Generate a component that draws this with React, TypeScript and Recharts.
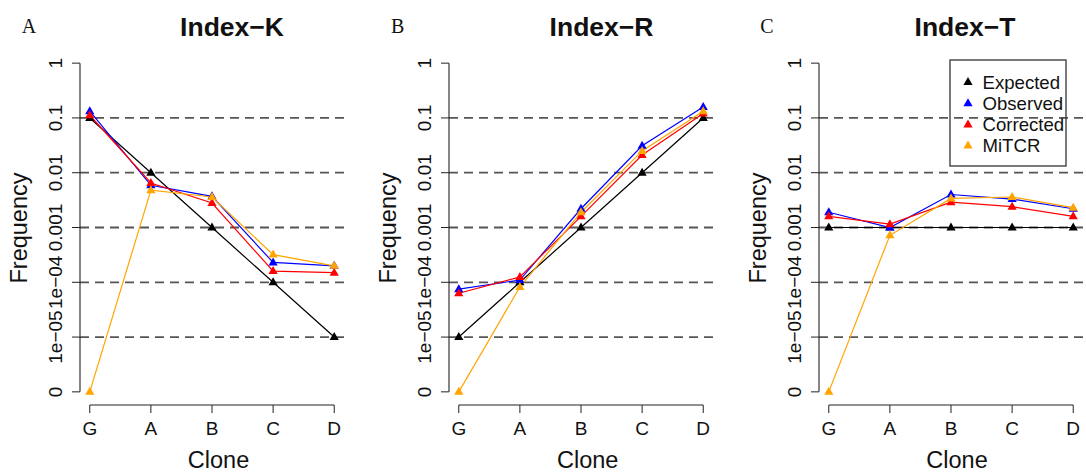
import React from 'react';
import { LineChart, Line, XAxis, YAxis, ReferenceLine, Legend } from 'recharts';

// ---------- data ----------
const clones = ['G', 'A', 'B', 'C', 'D'];
const seriesNames = ['Expected', 'Observed', 'Corrected', 'MiTCR'];
const seriesColors = ['#000000', '#0000FF', '#FF0000', '#FFA500'];

const yTickValues = [1e-6, 1e-5, 1e-4, 1e-3, 1e-2, 1e-1, 1];
const yTickLabels = ['0', '1e\u221205', '1e\u221204', '0.001', '0.01', '0.1', '1'];
const dashedLevels = [1e-5, 1e-4, 1e-3, 1e-2, 1e-1];

// Index-K
const kExpected = [0.1, 0.01, 0.001, 1e-4, 1e-5];
const kObserved = [0.133, 0.0059, 0.0037, 2.3e-4, 2.0e-4];
const kCorrected = [0.112, 0.0065, 0.0028, 1.6e-4, 1.5e-4];
const kMiTCR = [0, 0.0048, 0.0036, 3.2e-4, 2.0e-4];

// Index-R
const rExpected = [1e-5, 1e-4, 0.001, 0.01, 0.1];
const rObserved = [7.5e-5, 1.1e-4, 0.0022, 0.031, 0.158];
const rCorrected = [6.3e-5, 1.25e-4, 0.0016, 0.021, 0.12];
const rMiTCR = [0, 8.2e-5, 0.0019, 0.025, 0.133];

// Index-T
const tExpected = [0.001, 0.001, 0.001, 0.001, 0.001];
const tObserved = [0.0019, 0.001, 0.004, 0.0033, 0.0022];
const tCorrected = [0.0016, 0.00115, 0.0029, 0.0024, 0.0016];
const tMiTCR = [0, 7.2e-4, 0.0034, 0.0036, 0.0023];

// ---------- scale settings ----------
const ZERO_AT = 1e-6; // "0" is drawn at the bottom tick of the log axis
const Y_LO = Math.pow(10, -6.24);
const Y_HI = Math.pow(10, 0.24);
const X_LO = -0.16;
const X_HI = 4.16;

const SANS = '"Liberation Sans", Arial, Helvetica, sans-serif';
const SERIF = '"Liberation Serif", "Times New Roman", serif';

function buildRows(series: number[][]) {
  return clones.map((c, i) => {
    const row: any = { idx: i, clone: c };
    seriesNames.forEach((n, j) => {
      const v = series[j][i];
      row[n] = v <= 0 ? ZERO_AT : v;
    });
    return row;
  });
}

const panels = [
  { title: 'Index\u2212K', letter: 'A', left: 0, titleX: 232, rows: buildRows([kExpected, kObserved, kCorrected, kMiTCR]), legend: false },
  { title: 'Index\u2212R', letter: 'B', left: 369.2, titleX: 601.5, rows: buildRows([rExpected, rObserved, rCorrected, rMiTCR]), legend: false },
  { title: 'Index\u2212T', letter: 'C', left: 738.5, titleX: 965, rows: buildRows([tExpected, tObserved, tCorrected, tMiTCR]), legend: true },
];

const XTick = (props: any) => {
  const { x, y, payload } = props;
  const label = clones[Math.round(payload.value)] ?? '';
  return (
    <text x={x} y={y + 22} textAnchor="middle" fontFamily={SANS} fontSize={19} fill="#111">
      {label}
    </text>
  );
};

const YTick = (props: any) => {
  const { x, y, payload } = props;
  const v = payload.value;
  const i = yTickValues.findIndex((t) => Math.abs(Math.log10(t) - Math.log10(v)) < 1e-6);
  const label = i >= 0 ? yTickLabels[i] : '';
  const tx = x - 10;
  return (
    <text x={tx} y={y} transform={`rotate(-90, ${tx}, ${y})`} textAnchor="middle" fontFamily={SANS} fontSize={19} fill="#111">
      {label}
    </text>
  );
};

const triangleDot = (color: string) => (props: any) => {
  const { cx, cy, index } = props;
  if (cx == null || cy == null) return <g key={index} />;
  return (
    <path
      key={index}
      d={`M${cx},${cy - 5} L${cx + 4.6},${cy + 3} L${cx - 4.6},${cy + 3} Z`}
      fill={color}
      stroke="none"
    />
  );
};

const LegendBox = (props: any) => {
  const payload: any[] = props.payload || [];
  const items = seriesNames.map((n, j) => {
    const p = payload.find((e) => e.value === n || e.dataKey === n);
    return { name: n, color: (p && p.color) || seriesColors[j] };
  });
  return (
    <svg width={118} height={108} style={{ display: 'block', overflow: 'visible' }}>
      <rect x={1} y={1} width={116} height={106} fill="none" stroke="#333" strokeWidth={1.3} />
      {items.map((it, i) => {
        const cy = 23 + i * 21.2;
        const cx = 19;
        return (
          <g key={it.name}>
            <path d={`M${cx},${cy - 5} L${cx + 4.6},${cy + 3} L${cx - 4.6},${cy + 3} Z`} fill={it.color} />
            <text x={33.5} y={cy + 6.5} fontFamily={SANS} fontSize={18.6} fill="#111">
              {it.name}
            </text>
          </g>
        );
      })}
    </svg>
  );
};

export default function App() {
  return (
    <div style={{ position: 'absolute', left: 0, top: 0, width: 1086, height: 472, overflow: 'hidden', background: '#fff' }}>
      {panels.map((p) => (
        <div key={p.letter} style={{ position: 'absolute', left: p.left, top: 0 }}>
          <LineChart width={360} height={472} data={p.rows} margin={{ top: 50, right: 16, bottom: 0, left: 8 }}>
            <XAxis
              type="number"
              dataKey="idx"
              domain={[X_LO, X_HI]}
              ticks={[0, 1, 2, 3, 4]}
              allowDataOverflow
              axisLine={false}
              tickSize={8}
              tickMargin={0}
              tickLine={{ stroke: '#222' }}
              height={67}
              interval={0}
              tick={(tp: any) => <XTick {...tp} />}
            />
            <YAxis
              type="number"
              scale="log"
              domain={[Y_LO, Y_HI]}
              allowDataOverflow
              ticks={yTickValues}
              axisLine={false}
              tickSize={8}
              tickMargin={0}
              tickLine={{ stroke: '#222' }}
              width={72}
              interval={0}
              tick={(tp: any) => <YTick {...tp} />}
            />
            {dashedLevels.map((v) => (
              <ReferenceLine key={v} y={v} stroke="#555" strokeDasharray="9 6" strokeWidth={1.8} ifOverflow="visible" />
            ))}
            <ReferenceLine segment={[{ x: X_LO, y: ZERO_AT }, { x: X_LO, y: 1 }]} stroke="#222" strokeWidth={1.1} ifOverflow="visible" />
            <ReferenceLine segment={[{ x: 0, y: Y_LO }, { x: 4, y: Y_LO }]} stroke="#222" strokeWidth={1.1} ifOverflow="visible" />
            {seriesNames.map((n, j) => (
              <Line
                key={n}
                type="linear"
                dataKey={n}
                name={n}
                stroke={seriesColors[j]}
                strokeWidth={1.2}
                dot={triangleDot(seriesColors[j])}
                activeDot={false}
                isAnimationActive={false}
              />
            ))}
            {p.legend && (
              <Legend
                layout="horizontal"
                verticalAlign="middle"
                align="center"
                content={(lp: any) => <LegendBox {...lp} />}
                wrapperStyle={{ position: 'absolute', left: 210.5, top: 59, width: 118, height: 108 }}
              />
            )}
          </LineChart>
        </div>
      ))}
      <svg width={1086} height={472} style={{ position: 'absolute', left: 0, top: 0, pointerEvents: 'none' }}>
        {panels.map((p) => {
          const plotCenter = p.left + 80 + 132;
          const fx = p.left + 27;
          return (
            <g key={p.letter}>
              <text x={p.left + 21.7} y={33} fontFamily={SERIF} fontSize={20} fill="#111">
                {p.letter}
              </text>
              <text x={p.titleX} y={35.5} textAnchor="middle" fontFamily={SANS} fontWeight="bold" fontSize={26.5} fill="#111">
                {p.title}
              </text>
              <text x={fx} y={228} transform={`rotate(-90, ${fx}, 228)`} textAnchor="middle" fontFamily={SANS} fontSize={23.5} fill="#111">
                Frequency
              </text>
              <text x={plotCenter + 6.5} y={467.5} textAnchor="middle" fontFamily={SANS} fontSize={23.5} fill="#111">
                Clone
              </text>
            </g>
          );
        })}
      </svg>
    </div>
  );
}
